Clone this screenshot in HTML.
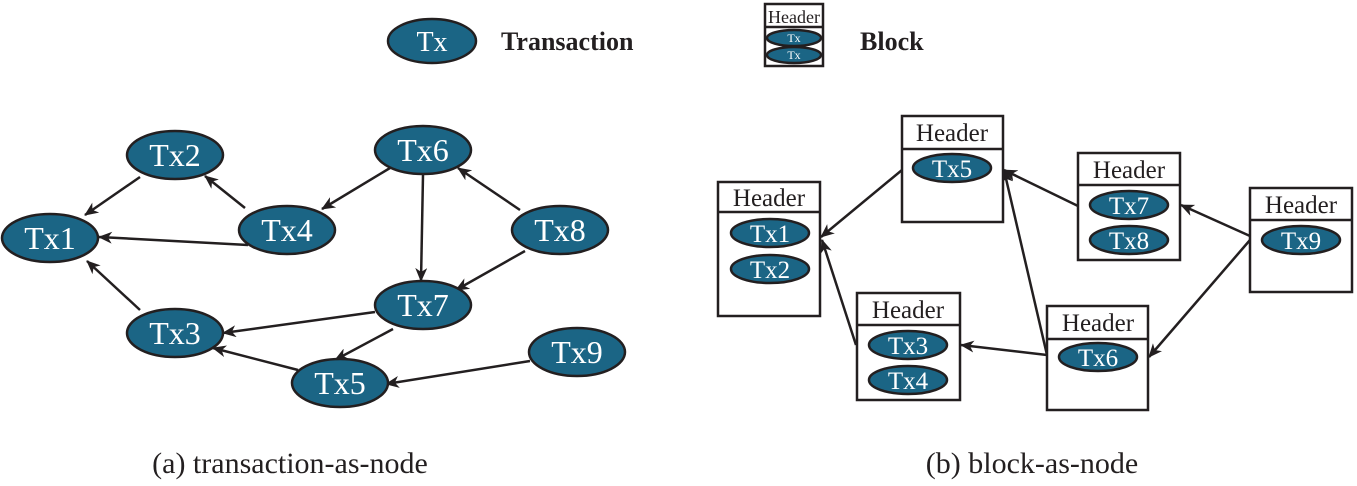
<!DOCTYPE html>
<html><head><style>body{margin:0;background:#fff}svg{display:block}svg text{font-family:"Liberation Serif","Times New Roman",Times,"DejaVu Serif","Noto Serif CJK SC",serif}</style></head><body>
<svg width="1357" height="486" viewBox="0 0 1357 486" xmlns="http://www.w3.org/2000/svg">
<defs><marker id="a" markerWidth="14" markerHeight="12" refX="13" refY="6" orient="auto" markerUnits="userSpaceOnUse"><path d="M0,0 L14,6 L0,12 L4,6z" fill="#231f20"/></marker></defs>
<g stroke="#231f20" stroke-width="2.5" fill="none" marker-end="url(#a)">
<line x1="140" y1="177" x2="85" y2="215"/>
<line x1="245" y1="208" x2="205" y2="176"/>
<line x1="248" y1="245" x2="99" y2="237"/>
<line x1="390" y1="168" x2="322" y2="209"/>
<line x1="520" y1="210" x2="458" y2="168"/>
<line x1="423" y1="175" x2="421" y2="281"/>
<line x1="525" y1="251" x2="456" y2="290"/>
<line x1="375" y1="312" x2="223" y2="333"/>
<line x1="393" y1="329" x2="335" y2="360"/>
<line x1="140" y1="310" x2="87" y2="261"/>
<line x1="298" y1="370" x2="213" y2="348"/>
<line x1="530" y1="361" x2="386" y2="384"/>
<line x1="902" y1="170" x2="821" y2="237"/>
<line x1="856" y1="345" x2="822" y2="240"/>
<line x1="1047" y1="355" x2="961" y2="345"/>
<line x1="1047" y1="355" x2="1004" y2="170"/>
<line x1="1078" y1="206" x2="1004" y2="170"/>
<line x1="1250" y1="236" x2="1181" y2="205"/>
<line x1="1250" y1="240" x2="1149" y2="357"/>
</g>
<g fill="#1b6585" stroke="#231f20" stroke-width="2.5">
<ellipse cx="432" cy="41" rx="44" ry="22"/>
<ellipse cx="50" cy="238" rx="48" ry="24"/>
<ellipse cx="175" cy="155" rx="48" ry="24"/>
<ellipse cx="287" cy="230" rx="48" ry="24"/>
<ellipse cx="423" cy="150" rx="48" ry="24"/>
<ellipse cx="560" cy="230" rx="48" ry="24"/>
<ellipse cx="423" cy="305" rx="48" ry="24"/>
<ellipse cx="175" cy="333" rx="48" ry="24"/>
<ellipse cx="340" cy="383" rx="48" ry="24"/>
<ellipse cx="577" cy="352" rx="48" ry="24"/>
</g>
<g fill="#fff" font-size="32" text-anchor="middle">
<text x="432" y="51" font-size="28">Tx</text>
<text x="50" y="249">Tx1</text><text x="175" y="166">Tx2</text><text x="287" y="241">Tx4</text>
<text x="423" y="161">Tx6</text><text x="560" y="241">Tx8</text><text x="423" y="316">Tx7</text>
<text x="175" y="344">Tx3</text><text x="340" y="394">Tx5</text><text x="577" y="363">Tx9</text>
</g>
<g fill="#231f20" font-weight="bold" font-size="26"><text x="501" y="50">Transaction</text><text x="860" y="50">Block</text></g>
<g stroke="#231f20" stroke-width="2.5" fill="#fff">
<rect x="765" y="4" width="58" height="62"/><line x1="765" y1="27" x2="823" y2="27"/>
<rect x="718" y="182" width="102" height="134"/><line x1="718" y1="212" x2="820" y2="212"/>
<rect x="902" y="116" width="101" height="106"/><line x1="902" y1="149" x2="1003" y2="149"/>
<rect x="1078" y="153" width="102" height="107"/><line x1="1078" y1="185" x2="1180" y2="185"/>
<rect x="1250" y="188" width="102" height="104"/><line x1="1250" y1="220" x2="1352" y2="220"/>
<rect x="857" y="293" width="103" height="107"/><line x1="857" y1="325" x2="960" y2="325"/>
<rect x="1047" y="306" width="101" height="104"/><line x1="1047" y1="339" x2="1148" y2="339"/>
</g>
<g fill="#1b6585" stroke="#231f20" stroke-width="2.5">
<ellipse cx="794" cy="38" rx="27" ry="8"/><ellipse cx="794" cy="55" rx="27" ry="8"/>
<ellipse cx="770" cy="233" rx="39" ry="14"/><ellipse cx="770" cy="269" rx="39" ry="14"/>
<ellipse cx="952" cy="168" rx="39" ry="14"/>
<ellipse cx="1129" cy="205" rx="39" ry="14"/><ellipse cx="1129" cy="240" rx="39" ry="14"/>
<ellipse cx="1301" cy="240" rx="39" ry="14"/>
<ellipse cx="908" cy="345" rx="39" ry="14"/><ellipse cx="908" cy="380" rx="39" ry="14"/>
<ellipse cx="1098" cy="357" rx="39" ry="14"/>
</g>
<g fill="#fff" font-size="25" text-anchor="middle">
<text x="794" y="42" font-size="12">Tx</text><text x="794" y="59" font-size="12">Tx</text>
<text x="770" y="242">Tx1</text><text x="770" y="278">Tx2</text><text x="952" y="177">Tx5</text>
<text x="1129" y="214">Tx7</text><text x="1129" y="249">Tx8</text><text x="1301" y="249">Tx9</text>
<text x="908" y="354">Tx3</text><text x="908" y="389">Tx4</text><text x="1098" y="366">Tx6</text>
</g>
<g fill="#231f20" font-size="25" text-anchor="middle">
<text x="794" y="23" font-size="18">Header</text>
<text x="769" y="206">Header</text><text x="952" y="141">Header</text><text x="1129" y="178">Header</text>
<text x="1301" y="213">Header</text><text x="908" y="318">Header</text><text x="1098" y="331">Header</text>
</g>
<g fill="#231f20" font-size="30" text-anchor="middle">
<text x="290" y="473">(a) transaction-as-node</text>
<text x="1032" y="473">(b) block-as-node</text>
</g>
</svg>
</body></html>
